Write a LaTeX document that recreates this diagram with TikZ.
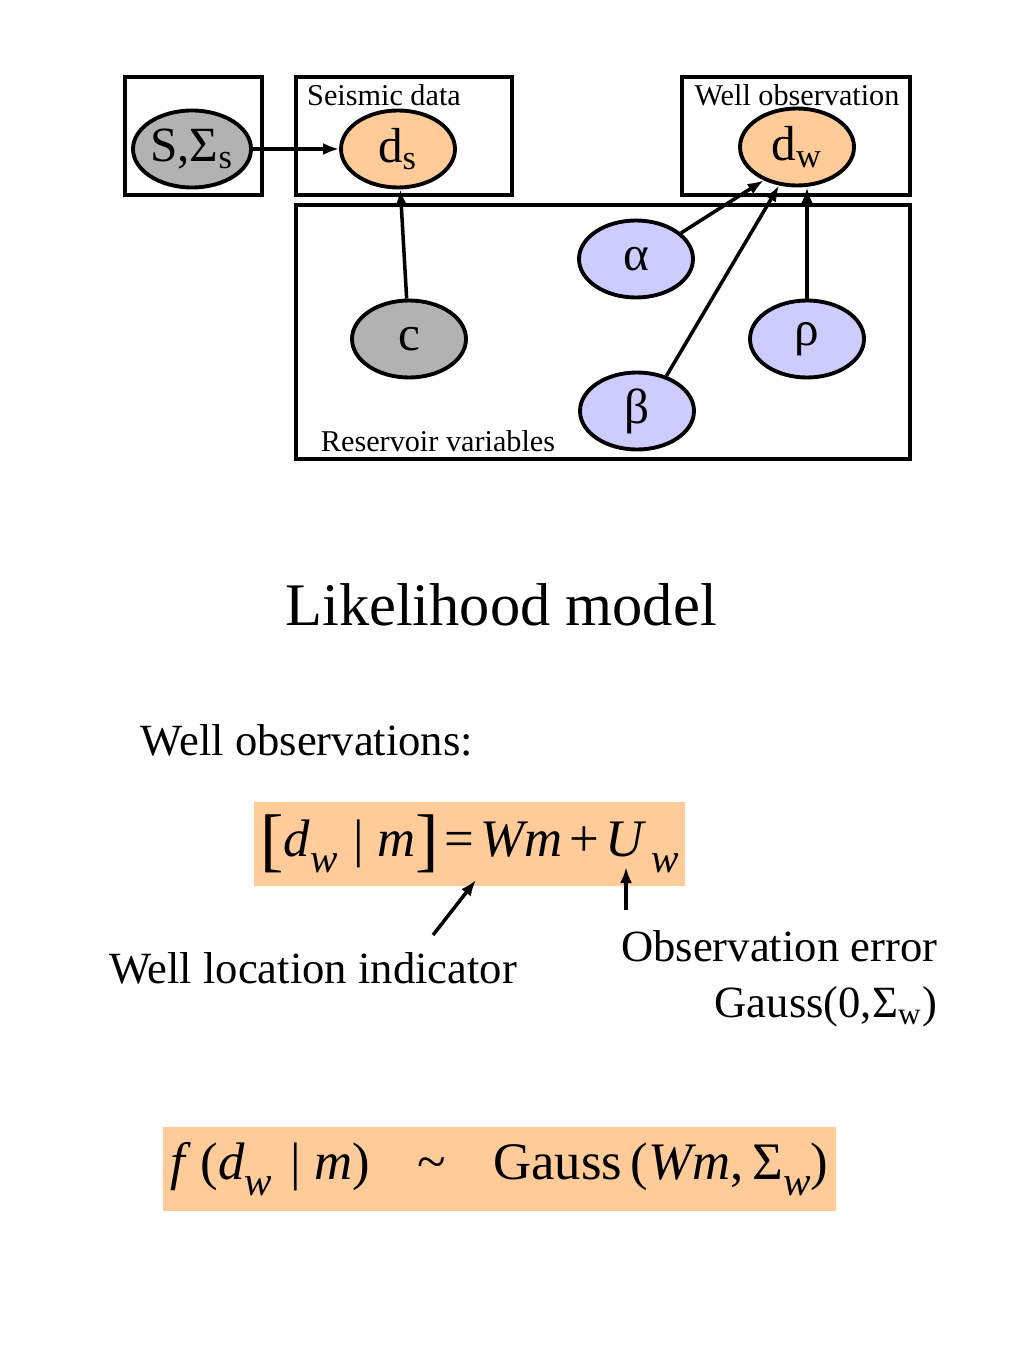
\documentclass[tikz,border=0pt]{standalone}
\usepackage{fontspec}
\setmainfont{Liberation Serif}
\usepackage{graphicx}
\usetikzlibrary{shapes.geometric,arrows.meta}

\definecolor{peach}{HTML}{FFCC99}
\definecolor{obsgray}{HTML}{B2B2B2}
\definecolor{lavender}{HTML}{CCCCFF}

\newcommand{\eqsub}[1]{\raisebox{-0.3em}{\scalebox{0.78}{\itshape #1}}}
\newcommand{\eqbrk}[1]{{\fontsize{20}{20}\selectfont\raisebox{-0.1em}{#1}}}

\begin{document}
\begin{tikzpicture}
    [x=0.1mm, y=-0.1mm,
     var/.style={ellipse, draw, line width=1.1pt, minimum width=11.4mm, minimum height=7.7mm, inner sep=0pt, font=\fontsize{14}{14}\selectfont},
     plate/.style={draw, line width=1.1pt},
     platelabel/.style={inner sep=0pt, font=\fontsize{8.6}{9}\selectfont},
     arr/.style={-{Latex[length=1.6mm,width=1.2mm]}, line width=1pt},
     body/.style={inner sep=0pt, font=\fontsize{12.7}{16}\selectfont},
     eqbox/.style={fill=peach, inner sep=0pt, minimum height=8.4mm, font=\fontsize{15}{15}\selectfont}]
    \useasboundingbox (0,0) rectangle (1024,1365);

    % plates
    \draw[plate] (125,77) rectangle (262,195);
    \draw[plate] (296,77) rectangle (512,195);
    \draw[plate] (682,77) rectangle (910,195);
    \draw[plate] (296,205) rectangle (910,459);
    \node (seis) at (384,95) [platelabel] {Seismic data};
    \node (wobs) at (797,95) [platelabel] {Well observation};
    \node (resv) at (438,441) [platelabel] {Reservoir variables};

    % variables
    \node (sig) at (192,149) [var, fill=obsgray] {S,Σ\textsubscript{s}};
    \node (ds) at (398,149) [var, fill=peach] {d\textsubscript{s}};
    \node (dw) at (797,147) [var, fill=peach] {d\textsubscript{w}};
    \node (alpha) at (636,259) [var, fill=lavender] {α};
    \node (c) at (409,339) [var, fill=obsgray] {c};
    \node (rho) at (807,339) [var, fill=lavender] {ρ};
    \node (beta) at (637,411) [var, fill=lavender] {β};

    \draw[arr] (sig) -- (ds);
    \draw[arr] (c) -- (ds);
    \draw[arr] (alpha.30) -- (dw.225);
    \draw[arr] (beta.50) -- (dw.245);
    \draw[arr] (rho.north) -- (rho.north |- dw.south);

    % likelihood
    \node (title) at (501,605) [font=\fontsize{17.2}{18}\selectfont] {Likelihood model};
    \node (wlab) at (140,740) [body, anchor=west] {Well observations:};

    \node (eqa) at (469.5,844) [eqbox, minimum width=43.1mm]
        {\eqbrk{[}\textit{d}\eqsub{w}\hspace{0.3em}|\hspace{0.25em}\textit{m}\eqbrk{]}\hspace{0.12em}=\hspace{0.12em}\textit{Wm}\hspace{0.12em}+\hspace{0.12em}\textit{U}\hspace{0.1em}\eqsub{w}};
    \node (wli) at (313,968) [body] {Well location indicator};
    \node (oerr) at (938,930) [body, anchor=north east, align=right] {Observation error\\Gauss(0,Σ\textsubscript{w})};
    \coordinate (wtail) at (433,935);
    \coordinate (wtip) at (476,880);
    \coordinate (utail) at (626,910);
    \coordinate (utip) at (626,867);
    \draw[arr] (wtail) -- (wtip);
    \draw[arr] (utail) -- (utip);

    \node (eqb) at (499.5,1169) [eqbox, minimum width=67.3mm]
        {\textit{f}\,(\textit{d}\eqsub{w}\hspace{0.35em}|\hspace{0.25em}\textit{m})\hspace{0.9em}\textasciitilde\hspace{0.9em}Gauss\,(\textit{Wm},\,Σ\eqsub{w})};
\end{tikzpicture}
\end{document}
